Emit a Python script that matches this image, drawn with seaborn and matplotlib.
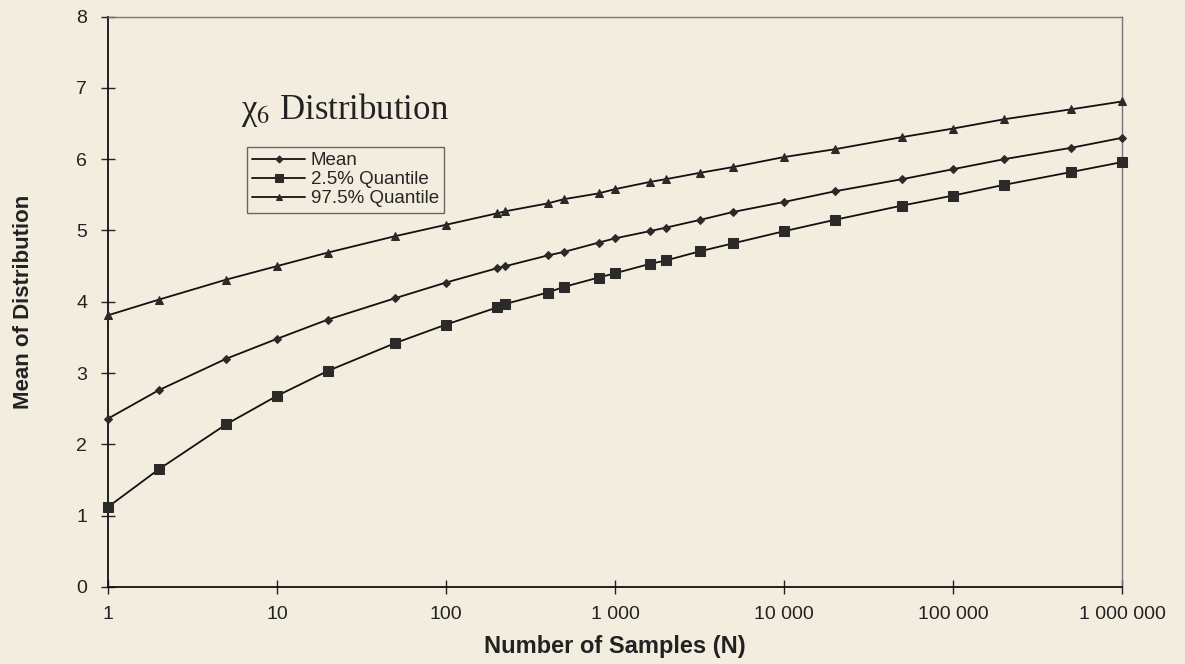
import numpy as np
import pandas as pd
import matplotlib
matplotlib.use("Agg")
import matplotlib.pyplot as plt
import matplotlib.ticker as mticker
import seaborn as sns

# ---- data ----
samples = [1, 2, 5, 10, 20, 50, 100, 200, 225, 400, 500, 800, 1000, 1600, 2000,
           3200, 5000, 10000, 20000, 50000, 100000, 200000, 500000, 1000000]
mean_vals = [2.36, 2.76, 3.20, 3.48, 3.75, 4.05, 4.27, 4.47, 4.50, 4.65, 4.70, 4.83,
             4.89, 4.99, 5.04, 5.15, 5.26, 5.40, 5.55, 5.72, 5.86, 6.00, 6.16, 6.30]
q025_vals = [1.12, 1.65, 2.28, 2.68, 3.03, 3.42, 3.68, 3.92, 3.97, 4.13, 4.21, 4.34,
             4.40, 4.53, 4.58, 4.71, 4.82, 4.99, 5.15, 5.35, 5.49, 5.64, 5.82, 5.96]
q975_vals = [3.81, 4.03, 4.31, 4.50, 4.69, 4.92, 5.08, 5.24, 5.27, 5.38, 5.44, 5.52,
             5.58, 5.68, 5.72, 5.81, 5.89, 6.03, 6.14, 6.31, 6.43, 6.56, 6.70, 6.81]
series_names = ["Mean", "2.5% Quantile", "97.5% Quantile"]
x_ticks = [1, 10, 100, 1000, 10000, 100000, 1000000]
x_tick_labels = ["1", "10", "100", "1 000", "10 000", "100 000", "1 000 000"]
y_ticks = [0, 1, 2, 3, 4, 5, 6, 7, 8]

df = pd.concat([
    pd.DataFrame({"N": samples, "value": vals, "series": name})
    for name, vals in zip(series_names, [mean_vals, q025_vals, q975_vals])
], ignore_index=True)

bg = "#F3EDDF"
sns.set_theme(style="white")
plt.rcParams["font.family"] = ["Liberation Sans", "DejaVu Sans"]
plt.rcParams["mathtext.fontset"] = "stix"

fig = plt.figure(figsize=(11.85, 6.64), dpi=100, facecolor=bg)
ax = fig.add_axes([0.091, 0.116, 0.856, 0.859])
ax.set_facecolor(bg)

markers = {"Mean": "D", "2.5% Quantile": "s", "97.5% Quantile": "^"}
sizes = {"Mean": 4.2, "2.5% Quantile": 6.5, "97.5% Quantile": 5.5}
for name in series_names:
    sub = df[df["series"] == name]
    sns.lineplot(data=sub, x="N", y="value", ax=ax, color="#111111", lw=1.3,
                 marker=markers[name], markersize=sizes[name],
                 markerfacecolor="#2b2a28", markeredgecolor="#2b2a28",
                 label=name, legend=False, clip_on=False, zorder=3)

ax.set_xscale("log")
ax.set_xlim(1, 1000000)
ax.set_ylim(0, 8)
ax.xaxis.set_major_locator(mticker.FixedLocator(x_ticks))
ax.xaxis.set_major_formatter(mticker.FixedFormatter(x_tick_labels))
ax.xaxis.set_minor_locator(mticker.NullLocator())
ax.set_yticks(y_ticks)

ax.tick_params(axis="both", which="major", bottom=True, left=True,
               direction="inout", length=10, width=1, color="#222222",
               labelsize=14, labelcolor="#222222")
ax.tick_params(axis="y", pad=10)
ax.tick_params(axis="x", pad=9)

for side in ["left", "bottom"]:
    ax.spines[side].set_color("#111111")
    ax.spines[side].set_linewidth(1.3)
for side in ["top", "right"]:
    ax.spines[side].set_color("#777777")
    ax.spines[side].set_linewidth(1.0)

ax.set_xlabel("Number of Samples (N)", fontsize=17, fontweight="bold",
              color="#222222", labelpad=8)
ax.set_ylabel("Mean of Distribution", fontsize=16, fontweight="bold",
              color="#222222", labelpad=30)

ax.text(0.131, 0.82, "χ$_6$ Distribution", transform=ax.transAxes,
        fontsize=25, family=["Liberation Serif", "DejaVu Serif"], color="#222222",
        ha="left", va="baseline")

handles, labels = ax.get_legend_handles_labels()
leg = ax.legend(handles, labels, loc="upper left", bbox_to_anchor=(0.137, 0.772),
                frameon=True, fancybox=False, fontsize=13.5, handlelength=2.8,
                handletextpad=0.3, borderpad=0.3, labelspacing=0.1,
                borderaxespad=0)
leg.get_frame().set_edgecolor("#444444")
leg.get_frame().set_facecolor(bg)
leg.get_frame().set_linewidth(1.0)
for h in leg.legend_handles:
    h.set_markersize(h.get_markersize() * 0.85)

fig.savefig("out.png", dpi=100, facecolor=bg)
